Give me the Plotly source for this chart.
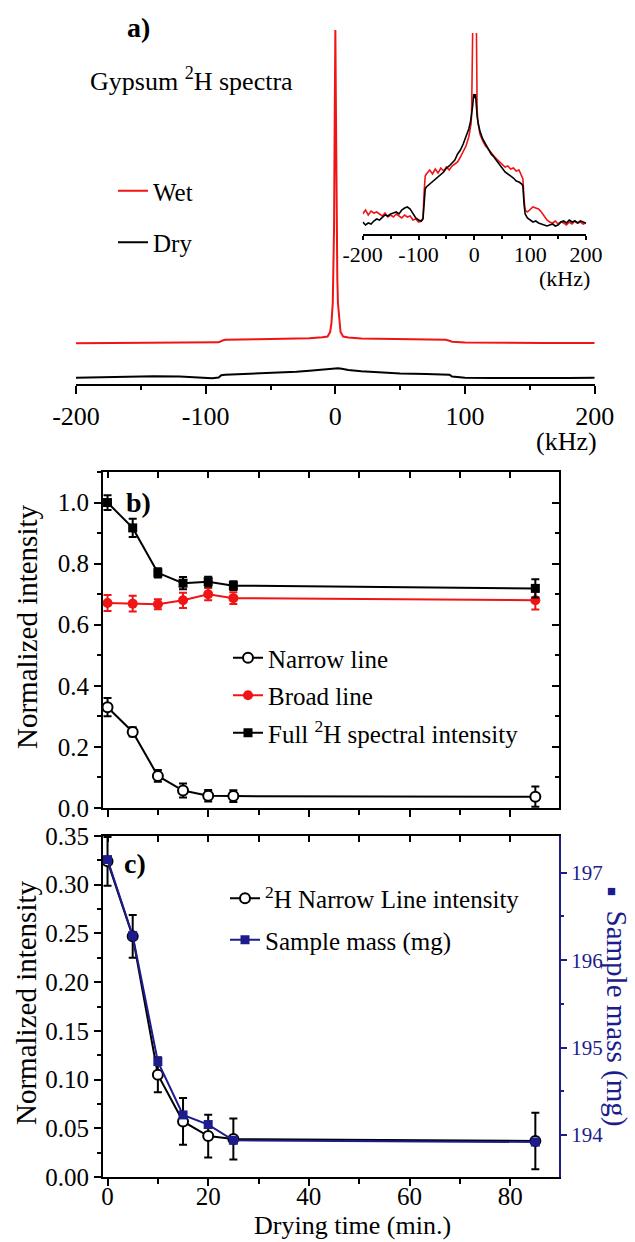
import plotly.graph_objects as go

W, H = 635, 1242
FONT = "Liberation Serif"
RED = "#f01414"
NAVY = "#1c1c8c"

# ---------------- Panel a: main spectra (arbitrary intensity units) ----------------
main_dry_khz = [-200, -180, -160, -140, -120, -105, -100, -95, -90, -88, -85, -70, -50, -30, -20, -10,
                -5, -2, 0, 2, 5, 10, 20, 30, 50, 70, 85, 88, 90, 95, 100, 120, 140, 160, 180, 200]
main_dry = [0.3, 0.8, 1.5, 1.8, 1.5, 0.5, 0.0, -0.3, 0.5, 2.8, 3.3, 4.0, 5.3, 6.3, 7.3, 8.3,
            9.2, 9.8, 10.0, 9.8, 9.2, 8.0, 6.8, 6.0, 4.6, 4.0, 3.6, 3.3, 1.5, 0.6, 0.3, 0.0, -0.2, 0.0, 0.1, 0.2]

main_wet_khz = [-200, -160, -120, -100, -90, -87, -85, -60, -40, -20, -10, -6, -4, -3, -2, -1.5, -1, -0.5,
                0, 0.5, 1, 1.5, 2, 3, 4, 6, 10, 20, 40, 60, 85, 88, 90, 100, 120, 160, 200]
main_wet = [34.7, 35.0, 35.3, 35.6, 35.7, 37.5, 38.2, 38.7, 39.2, 39.7, 40.8, 41.5, 46, 55, 75, 100, 150, 260,
            348, 260, 150, 100, 75, 55, 46, 41.5, 40.5, 39.5, 39.0, 38.6, 38.2, 37.2, 36.3, 35.5, 35.2, 35.0, 35.0]

# ---------------- Panel a: inset spectra ----------------
inset_dry_khz = [-200, -195, -190, -185, -180, -175, -170, -165, -160, -155, -150, -145, -140, -135, -130,
                 -125, -120, -115, -110, -105, -100, -95, -92, -90, -88, -86, -80, -75, -70, -65, -60, -55,
                 -50, -45, -40, -35, -30, -25, -20, -15, -10, -7, -5, -3, -2, -1, 0, 1, 2, 3, 5, 7, 10, 15,
                 20, 25, 30, 35, 40, 45, 50, 55, 60, 65, 70, 75, 80, 85, 87, 89, 91, 95, 100, 105, 110, 115,
                 120, 125, 130, 135, 140, 145, 150, 155, 160, 165, 170, 175, 180, 185, 190, 195, 200]
inset_dry = [12, 9, 11, 10, 13, 15, 14, 17, 19, 18, 20, 21, 22, 20, 24, 26, 27, 25, 20, 16, 14, 13,
             15, 30, 45, 47,
             50, 52, 55, 57, 59, 62, 66, 68, 71, 74, 80, 84, 90, 97, 105,
             112, 118, 128, 135, 140, 138, 136, 140, 128, 118, 110,
             103, 95, 90, 86, 80, 77, 73, 69, 66, 62, 60, 58, 56, 53, 52, 50,
             48, 30, 20,
             16, 14, 12, 13, 11, 10, 9, 8, 9, 10, 8, 9, 12, 13, 11, 14, 12, 13, 11, 13, 12, 11]

inset_wet_khz = [-200, -195, -190, -185, -180, -175, -170, -165, -160, -155, -150, -145, -140, -135, -130,
                 -125, -120, -115, -110, -105, -100, -95, -92, -90, -88, -86, -80, -75, -70, -65, -60, -55,
                 -50, -45, -40, -35, -30, -25, -20, -15, -10, -8, -6, -5, -4.5, -4, -3.5, -3, -2, 0, 2, 3,
                 3.5, 4, 4.5, 5, 6, 8, 10, 15, 20, 25, 30, 35, 40, 45, 50, 55, 60, 65, 70, 75, 80, 85, 87,
                 89, 91, 95, 100, 105, 110, 115, 120, 125, 130, 135, 140, 145, 150, 155, 160, 165, 170, 175,
                 180, 185, 190, 195, 200]
inset_wet = [20, 24, 19, 23, 21, 22, 20, 18, 21, 17, 19, 17, 20, 18, 16, 19, 17, 18, 14, 15, 12, 13,
             16, 42, 58, 60,
             64, 60, 65, 61, 66, 63, 67, 64, 68, 70, 72, 77, 82, 88, 97,
             102, 110, 118, 135, 165, 210, 250, 300, 330, 300, 250, 210, 165, 140, 124, 114, 106,
             100, 93, 88, 85, 81, 78, 75, 72, 69, 67, 68, 65, 66, 63, 64, 58,
             55, 35, 24,
             22, 25, 27, 26, 25, 22, 18, 14, 12, 11, 13, 10, 12, 11, 9, 12, 10, 13, 11, 12, 10, 11]

khz_tickvals = [-200, -100, 0, 100, 200]
khz_ticktext = ["-200", "-100", "0", "100", "200"]

# ---------------- Panels b and c ----------------
drying_time = [0, 5, 10, 15, 20, 25, 85]
narrow_b = [0.330, 0.249, 0.105, 0.057, 0.040, 0.039, 0.037]
narrow_b_err = [0.030, 0.015, 0.019, 0.023, 0.019, 0.019, 0.033]
broad_b = [0.671, 0.669, 0.667, 0.680, 0.700, 0.687, 0.680]
broad_b_err = [0.026, 0.026, 0.016, 0.025, 0.020, 0.019, 0.030]
full_b = [1.000, 0.917, 0.770, 0.736, 0.741, 0.728, 0.719]
full_b_err = [0.024, 0.030, 0.015, 0.020, 0.016, 0.014, 0.030]

narrow_c = [0.324, 0.247, 0.105, 0.057, 0.042, 0.039, 0.037]
narrow_c_err = [0.025, 0.022, 0.018, 0.024, 0.022, 0.021, 0.029]
mass_c = [197.15, 196.28, 194.84, 194.23, 194.12, 193.94, 193.92]


def fx(p):
    return p / W


def fy(p):
    return 1 - p / H


fig = go.Figure()

# panel a main
fig.add_trace(go.Scatter(x=main_wet_khz, y=main_wet, mode="lines", name="Wet",
                         line=dict(color=RED, width=2), xaxis="x", yaxis="y", legend="legend",
                         legendgroup="wet"))
fig.add_trace(go.Scatter(x=main_dry_khz, y=main_dry, mode="lines", name="Dry",
                         line=dict(color="black", width=2), xaxis="x", yaxis="y", legend="legend",
                         legendgroup="dry"))
# inset
fig.add_trace(go.Scatter(x=inset_wet_khz, y=inset_wet, mode="lines", showlegend=False,
                         line=dict(color=RED, width=1.6), xaxis="x2", yaxis="y2"))
fig.add_trace(go.Scatter(x=inset_dry_khz, y=inset_dry, mode="lines", showlegend=False,
                         line=dict(color="black", width=1.6), xaxis="x2", yaxis="y2"))

# panel b
fig.add_trace(go.Scatter(x=drying_time, y=narrow_b, mode="lines+markers", name="Narrow line",
                         line=dict(color="black", width=2),
                         marker=dict(symbol="circle", size=10, color="white", line=dict(color="black", width=2)),
                         error_y=dict(type="data", array=narrow_b_err, color="black", thickness=2, width=4),
                         xaxis="x3", yaxis="y3", legend="legend2", legendgroup="n"))
fig.add_trace(go.Scatter(x=drying_time, y=broad_b, mode="lines+markers", name="Broad line",
                         line=dict(color=RED, width=2),
                         marker=dict(symbol="circle", size=10, color=RED),
                         error_y=dict(type="data", array=broad_b_err, color=RED, thickness=2, width=4),
                         xaxis="x3", yaxis="y3", legend="legend2", legendgroup="b"))
fig.add_trace(go.Scatter(x=drying_time, y=full_b, mode="lines+markers", name="Full <sup>2</sup>H spectral intensity",
                         line=dict(color="black", width=2),
                         marker=dict(symbol="square", size=9, color="black"),
                         error_y=dict(type="data", array=full_b_err, color="black", thickness=2, width=4),
                         xaxis="x3", yaxis="y3", legend="legend2", legendgroup="f"))
# dummy traces to register mirror axes
fig.add_trace(go.Scatter(x=[None], y=[None], showlegend=False, hoverinfo="skip", xaxis="x4", yaxis="y3"))
fig.add_trace(go.Scatter(x=[None], y=[None], showlegend=False, hoverinfo="skip", xaxis="x3", yaxis="y4"))

# panel c
fig.add_trace(go.Scatter(x=drying_time, y=narrow_c, mode="lines+markers", name="<sup>2</sup>H Narrow Line intensity",
                         line=dict(color="black", width=2),
                         marker=dict(symbol="circle", size=10, color="white", line=dict(color="black", width=2)),
                         error_y=dict(type="data", array=narrow_c_err, color="black", thickness=2, width=4),
                         xaxis="x5", yaxis="y5", legend="legend3", legendgroup="nc"))
fig.add_trace(go.Scatter(x=[None], y=[None], showlegend=False, hoverinfo="skip", xaxis="x6", yaxis="y5"))
fig.add_trace(go.Scatter(x=drying_time, y=mass_c, mode="lines+markers", name="Sample mass (mg)",
                         line=dict(color=NAVY, width=2),
                         marker=dict(symbol="square", size=9, color=NAVY),
                         xaxis="x5", yaxis="y6", legend="legend3", legendgroup="m"))

tf = dict(family=FONT, size=25, color="black")
common_line = dict(showline=True, linecolor="black", linewidth=2, showgrid=False, zeroline=False,
                   automargin=False)

t_range = [-0.9, 89.7]
bx_dom = [fx(103), fx(559)]

fig.update_layout(
    width=W, height=H, margin=dict(l=0, r=0, t=0, b=0, pad=0, autoexpand=False),
    paper_bgcolor="white", plot_bgcolor="rgba(0,0,0,0)",
    font=dict(family=FONT, color="black"),
    # panel a main
    xaxis=dict(domain=[fx(76), fx(594.7)], anchor="y", range=[-200, 200], **common_line,
               ticks="outside", ticklen=8, tickwidth=2, tickcolor="black",
               tickvals=khz_tickvals, ticktext=khz_ticktext,
               minor=dict(dtick=50, tick0=0, ticks="outside", ticklen=4, tickwidth=2, tickcolor="black"),
               tickfont=dict(family=FONT, size=26)),
    yaxis=dict(domain=[fy(384), fy(28)], anchor="x", range=[-6, 350], visible=False, automargin=False),
    # inset
    xaxis2=dict(domain=[fx(362.7), fx(586)], anchor="y2", range=[-200, 200], showline=True,
                linecolor="black", linewidth=1.5, showgrid=False, zeroline=False, automargin=False,
                ticks="outside", ticklen=4, tickwidth=1.5, tickcolor="black",
                tickvals=khz_tickvals, ticktext=khz_ticktext, ticklabelstandoff=-4,
                minor=dict(dtick=50, tick0=0, ticks="outside", ticklen=3, tickwidth=1.5, tickcolor="black"),
                tickfont=dict(family=FONT, size=22)),
    yaxis2=dict(domain=[fy(234), fy(33)], anchor="x2", range=[0, 201], visible=False, automargin=False),
    # panel b
    xaxis3=dict(domain=bx_dom, anchor="y3", range=t_range, **common_line,
                ticks="outside", ticklen=7, tickwidth=2, tickcolor="black", dtick=20, tick0=0,
                minor=dict(dtick=10, ticks="outside", ticklen=5, tickwidth=2, tickcolor="black"),
                showticklabels=False),
    yaxis3=dict(domain=[fy(808), fy(472)], anchor="x3", range=[0, 1.1], **common_line,
                ticks="outside", ticklen=7, tickwidth=2, tickcolor="black", dtick=0.2, tick0=0,
                tickformat=".1f",
                minor=dict(dtick=0.1, ticks="outside", ticklen=4, tickwidth=2, tickcolor="black"),
                tickfont=tf),
    xaxis4=dict(overlaying="x3", side="top", anchor="y3", range=t_range, **common_line,
                ticks="inside", ticklen=6, tickwidth=2, tickcolor="black", dtick=10, tick0=0,
                showticklabels=False),
    yaxis4=dict(overlaying="y3", side="right", anchor="x3", range=[0, 1.1], **common_line,
                ticks="inside", ticklen=7, tickwidth=2, tickcolor="black", dtick=0.2, tick0=0,
                minor=dict(dtick=0.1, ticks="inside", ticklen=4, tickwidth=2, tickcolor="black"),
                showticklabels=False),
    # panel c
    xaxis5=dict(domain=bx_dom, anchor="y5", range=t_range, **common_line,
                ticks="outside", ticklen=7, tickwidth=2, tickcolor="black", dtick=20, tick0=0,
                minor=dict(dtick=10, ticks="outside", ticklen=5, tickwidth=2, tickcolor="black"),
                ticklabelstandoff=-11, tickfont=tf),
    yaxis5=dict(domain=[fy(1177), fy(836)], anchor="x5", range=[0, 0.35], **common_line,
                ticks="outside", ticklen=7, tickwidth=2, tickcolor="black", dtick=0.05, tick0=0,
                tickformat=".2f",
                minor=dict(dtick=0.025, ticks="outside", ticklen=4, tickwidth=2, tickcolor="black"),
                tickfont=tf),
    xaxis6=dict(overlaying="x5", side="top", anchor="y5", range=t_range, **common_line,
                ticks="inside", ticklen=6, tickwidth=2, tickcolor="black", dtick=10, tick0=0,
                showticklabels=False),
    yaxis6=dict(overlaying="y5", side="right", anchor="x5", range=[193.52, 197.42],
                showline=True, linecolor=NAVY, linewidth=2, showgrid=False, zeroline=False, automargin=False,
                ticks="outside", ticklen=6, tickwidth=2, tickcolor=NAVY, dtick=1, tick0=194,
                minor=dict(dtick=0.5, ticks="outside", ticklen=3, tickwidth=2, tickcolor=NAVY),
                tickfont=dict(family=FONT, size=21, color=NAVY)),
    legend=dict(x=fx(113), y=fy(216.5), xanchor="left", yanchor="middle",
                font=dict(family=FONT, size=25), bgcolor="rgba(0,0,0,0)",
                traceorder="grouped", tracegroupgap=16),
    legend2=dict(x=fx(228), y=fy(695.5), xanchor="left", yanchor="middle",
                 font=dict(family=FONT, size=25), bgcolor="rgba(0,0,0,0)",
                 traceorder="grouped", tracegroupgap=2),
    legend3=dict(x=fx(225), y=fy(919), xanchor="left", yanchor="middle",
                 font=dict(family=FONT, size=25), bgcolor="rgba(0,0,0,0)",
                 traceorder="grouped", tracegroupgap=6),
)

ann = [
    dict(text="<b>a)</b>", x=fx(138), y=fy(28), size=28, color="black"),
    dict(text="<b>b)</b>", x=fx(138), y=fy(502), size=28, color="black"),
    dict(text="<b>c)</b>", x=fx(135), y=fy(863), size=28, color="black"),
]
for a in ann:
    fig.add_annotation(text=a["text"], x=a["x"], y=a["y"], xref="paper", yref="paper",
                       xanchor="center", yanchor="middle", showarrow=False,
                       font=dict(family=FONT, size=a["size"], color=a["color"]))

fig.add_annotation(text="Gypsum <sup>2</sup>H spectra", x=fx(88), y=fy(79), xref="paper", yref="paper",
                   xanchor="left", yanchor="middle", showarrow=False, font=dict(family=FONT, size=26))
fig.add_annotation(text="(kHz)", x=fx(599), y=fy(441), xref="paper", yref="paper",
                   xanchor="right", yanchor="middle", showarrow=False, font=dict(family=FONT, size=26))
fig.add_annotation(text="(kHz)", x=fx(592), y=fy(278), xref="paper", yref="paper",
                   xanchor="right", yanchor="middle", showarrow=False, font=dict(family=FONT, size=22))
fig.add_annotation(text="Normalized intensity", x=fx(27), y=fy(627), xref="paper", yref="paper",
                   xanchor="center", yanchor="middle", textangle=-90, showarrow=False,
                   font=dict(family=FONT, size=29))
fig.add_annotation(text="Normalized intensity", x=fx(26), y=fy(1003), xref="paper", yref="paper",
                   xanchor="center", yanchor="middle", textangle=-90, showarrow=False,
                   font=dict(family=FONT, size=29))
fig.add_annotation(text="<span style='font-size:15px'>■</span>  Sample mass (mg)", x=fx(617), y=fy(1006),
                   xref="paper", yref="paper", xanchor="center", yanchor="middle", textangle=90,
                   showarrow=False, font=dict(family=FONT, size=29, color=NAVY))
fig.add_annotation(text="Drying time (min.)", x=fx(352), y=fy(1225), xref="paper", yref="paper",
                   xanchor="center", yanchor="middle", showarrow=False, font=dict(family=FONT, size=26))

fig.write_html("out.html", config={"displayModeBar": False},
               post_script="document.body.style.margin='0';")
